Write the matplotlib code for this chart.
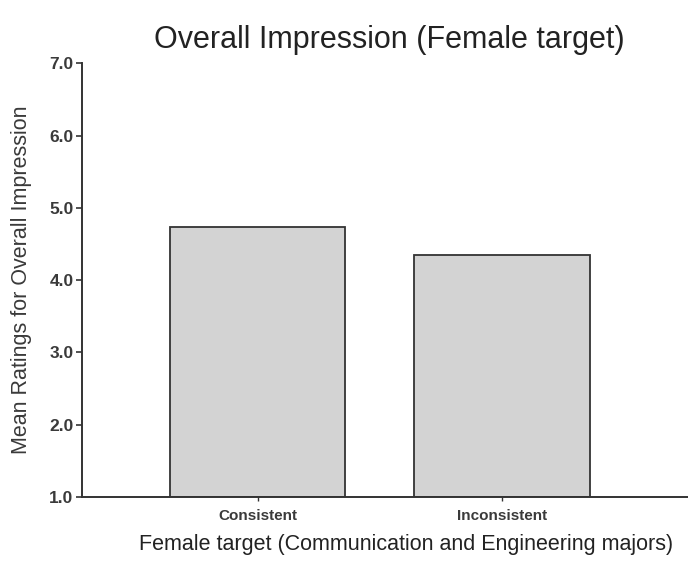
import matplotlib
matplotlib.use('Agg')
from matplotlib import pyplot as plt

plt.rcParams['font.family'] = ['Liberation Sans', 'DejaVu Sans']

# data
conditions = ['Consistent', 'Inconsistent']
mean_ratings = [4.74, 4.35]
y_ticks = [1.0, 2.0, 3.0, 4.0, 5.0, 6.0, 7.0]

text_color = '#3a3a3a'

fig = plt.figure(figsize=(6.88, 5.86), dpi=100)
ax = fig.add_axes([0.119, 0.152, 0.881, 0.740])

x = range(len(conditions))
ax.bar(x, [v - 1.0 for v in mean_ratings], bottom=1.0, width=0.717,
       color='#d3d3d3', edgecolor='#333333', linewidth=1.3)

ax.set_ylim(1.0, 7.0)
ax.set_xlim(-0.721, 1.762)
ax.set_yticks(y_ticks)
ax.set_yticklabels(['%.1f' % t for t in y_ticks], fontsize=12.5,
                   fontweight='bold', color=text_color)
ax.set_xticks(list(x))
ax.set_xticklabels(conditions, fontsize=11, fontweight='bold', color=text_color)
ax.tick_params(axis='y', direction='out', length=4, width=1.2, color='#333333', pad=2)
ax.tick_params(axis='x', direction='out', length=3, width=1.0, color='#333333', pad=6)

for s in ['top', 'right']:
    ax.spines[s].set_visible(False)
for s in ['left', 'bottom']:
    ax.spines[s].set_linewidth(1.4)
    ax.spines[s].set_color('#333333')

fig.text(0.031, 0.523, 'Mean Ratings for Overall Impression', rotation=90,
         ha='center', va='center', fontsize=15.5, color=text_color)
fig.text(0.59, 0.07, 'Female target (Communication and Engineering majors)',
         ha='center', va='center', fontsize=15.5, color='#222222')
fig.text(0.566, 0.932, 'Overall Impression (Female target)',
         ha='center', va='center', fontsize=22, color='#222222')

fig.savefig('out.png', dpi=100)
